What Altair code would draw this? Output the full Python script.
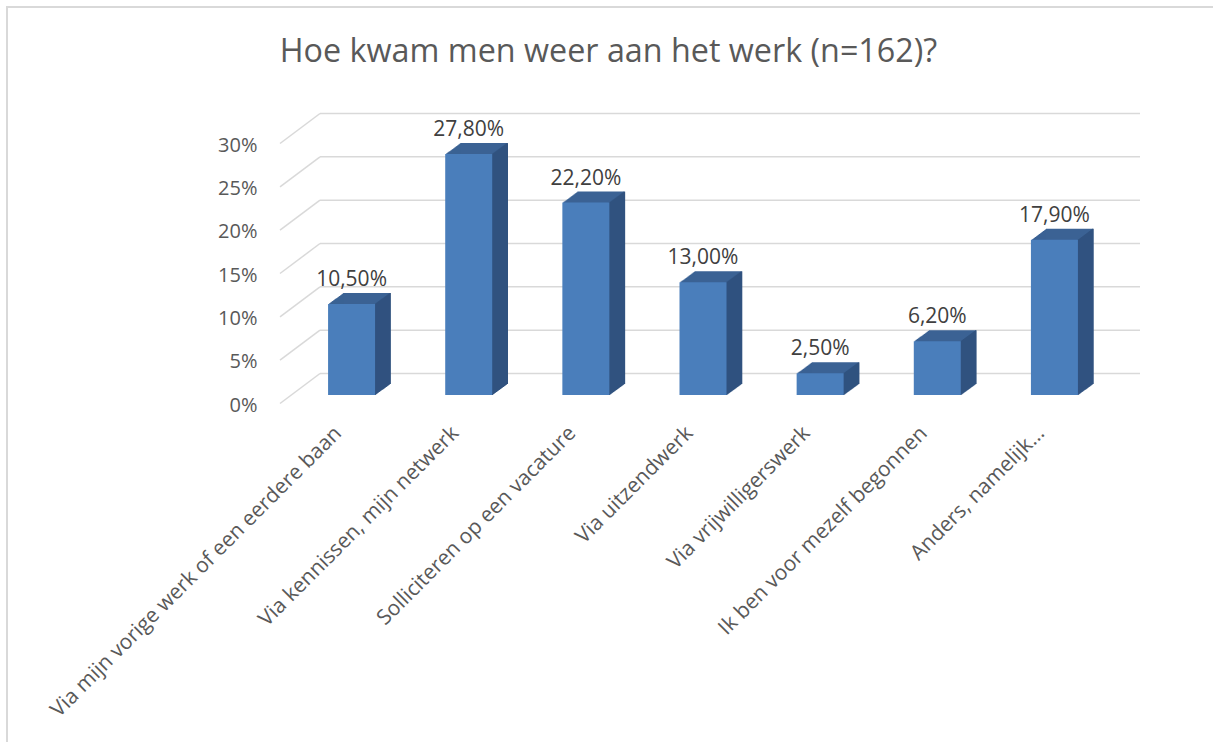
import altair as alt
import pandas as pd

# ---- data ----
categories = [
    "Via mijn vorige werk of een eerdere baan",
    "Via kennissen, mijn netwerk",
    "Solliciteren op een vacature",
    "Via uitzendwerk",
    "Via vrijwilligerswerk",
    "Ik ben voor mezelf begonnen",
    "Anders, namelijk…",
]
values = [10.5, 27.8, 22.2, 13.0, 2.5, 6.2, 17.9]
tick_values = [0, 5, 10, 15, 20, 25, 30]
title_text = ["Hoe kwam men weer aan het werk (n=162)?"]

df = pd.DataFrame({"cat": categories, "v": values})
ticks_df = pd.DataFrame({"t": tick_values})
title_df = pd.DataFrame({"title": title_text})

# ---- style ----
FONT = "Open Sans"
FRONT = "#4a7ebb"
SIDE = "#30527f"
TOP = "#3b6294"
GRID = "#d9d9d9"
BAR_W = 47
DEPTH_X = 15
DEPTH_Y = 11

W, H = 820, 260
PAD = {"left": 293, "top": 135, "right": 100, "bottom": 347}

xscale = alt.Scale(paddingInner=0, paddingOuter=0)
yscale = alt.Scale(domain=[0, 30], nice=False, zero=True)

xaxis = alt.Axis(
    labelAngle=-45, labelAlign="right", labelBaseline="top",
    labelOffset=-21, labelPadding=27, labelFontSize=21, labelFont=FONT,
    labelColor="#595959", labelLimit=0, labelOverlap=False,
    domain=False, ticks=False, grid=False, title=None,
)
yaxis = alt.Axis(
    values=tick_values, labelExpr="datum.value + '%'",
    domain=False, ticks=False, grid=False, labelPadding=36, labelOffset=10,
    labelFontSize=20, labelFont=FONT, labelColor="#595959", title=None,
)

X = alt.X("cat:N", sort=categories, scale=xscale, axis=xaxis)
Y = alt.Y("v:Q", scale=yscale, axis=yaxis)

base = alt.Chart(df)
tick_base = alt.Chart(ticks_df)

layers = []

# outer border (top and left edges visible in the reference)
layers.append(tick_base.mark_rule(color=GRID, strokeWidth=2).encode(
    x=alt.value(6 - PAD["left"]), x2=alt.value(1213 - PAD["left"]),
    y=alt.value(7 - PAD["top"])))
layers.append(tick_base.mark_rule(color=GRID, strokeWidth=2).encode(
    x=alt.value(7 - PAD["left"]), y=alt.value(6 - PAD["top"]),
    y2=alt.value(742 - PAD["top"])))

# chart title
layers.append(alt.Chart(title_df).mark_text(
    font=FONT, fontSize=32.3, color="#595959", align="center", baseline="alphabetic").encode(
    text="title:N", x=alt.value(608.5 - PAD["left"]), y=alt.value(62 - PAD["top"])))

# back-wall gridlines
layers.append(tick_base.mark_rule(color=GRID, strokeWidth=1.5, yOffset=-21.5).encode(
    y=alt.Y("t:Q", scale=yscale, axis=yaxis),
    x=alt.value(27), x2=alt.value(847)))
# side-wall diagonals
layers.append(tick_base.mark_rule(color=GRID, strokeWidth=1.5, yOffset=8.5, y2Offset=-21.5).encode(
    y=alt.Y("t:Q", scale=yscale, axis=yaxis), y2="t:Q",
    x=alt.value(-13), x2=alt.value(27)))

# 3D extrusion: top face copies
for k in range(1, DEPTH_X + 1):
    dy = k * DEPTH_Y / DEPTH_X
    layers.append(base.mark_bar(size=BAR_W, color=TOP, xOffset=k,
                                yOffset=-dy, y2Offset=-dy).encode(x=X, y=Y))
# side face strips
for k in range(0, DEPTH_X + 1):
    dy = k * DEPTH_Y / DEPTH_X
    layers.append(base.mark_bar(size=1.6, color=SIDE, xOffset=BAR_W / 2 + k,
                                yOffset=-dy, y2Offset=-dy).encode(x=X, y=Y))

# front face
layers.append(base.mark_bar(size=BAR_W, color=FRONT).encode(x=X, y=Y))

# data labels
layers.append(base.mark_text(dy=-18, baseline="alphabetic", fontSize=21, font=FONT,
                             color="#404040").encode(
    x=X, y=Y,
    text="lbl:N").transform_calculate(
    lbl="replace(format(datum.v, '.2f'), '.', ',') + '%'"))

chart = alt.layer(*layers).properties(
    width=W, height=H, padding=PAD, autosize="none", background="white",
).configure_view(stroke=None)

chart.save("out.html", embed_options={"renderer": "svg", "actions": False})
